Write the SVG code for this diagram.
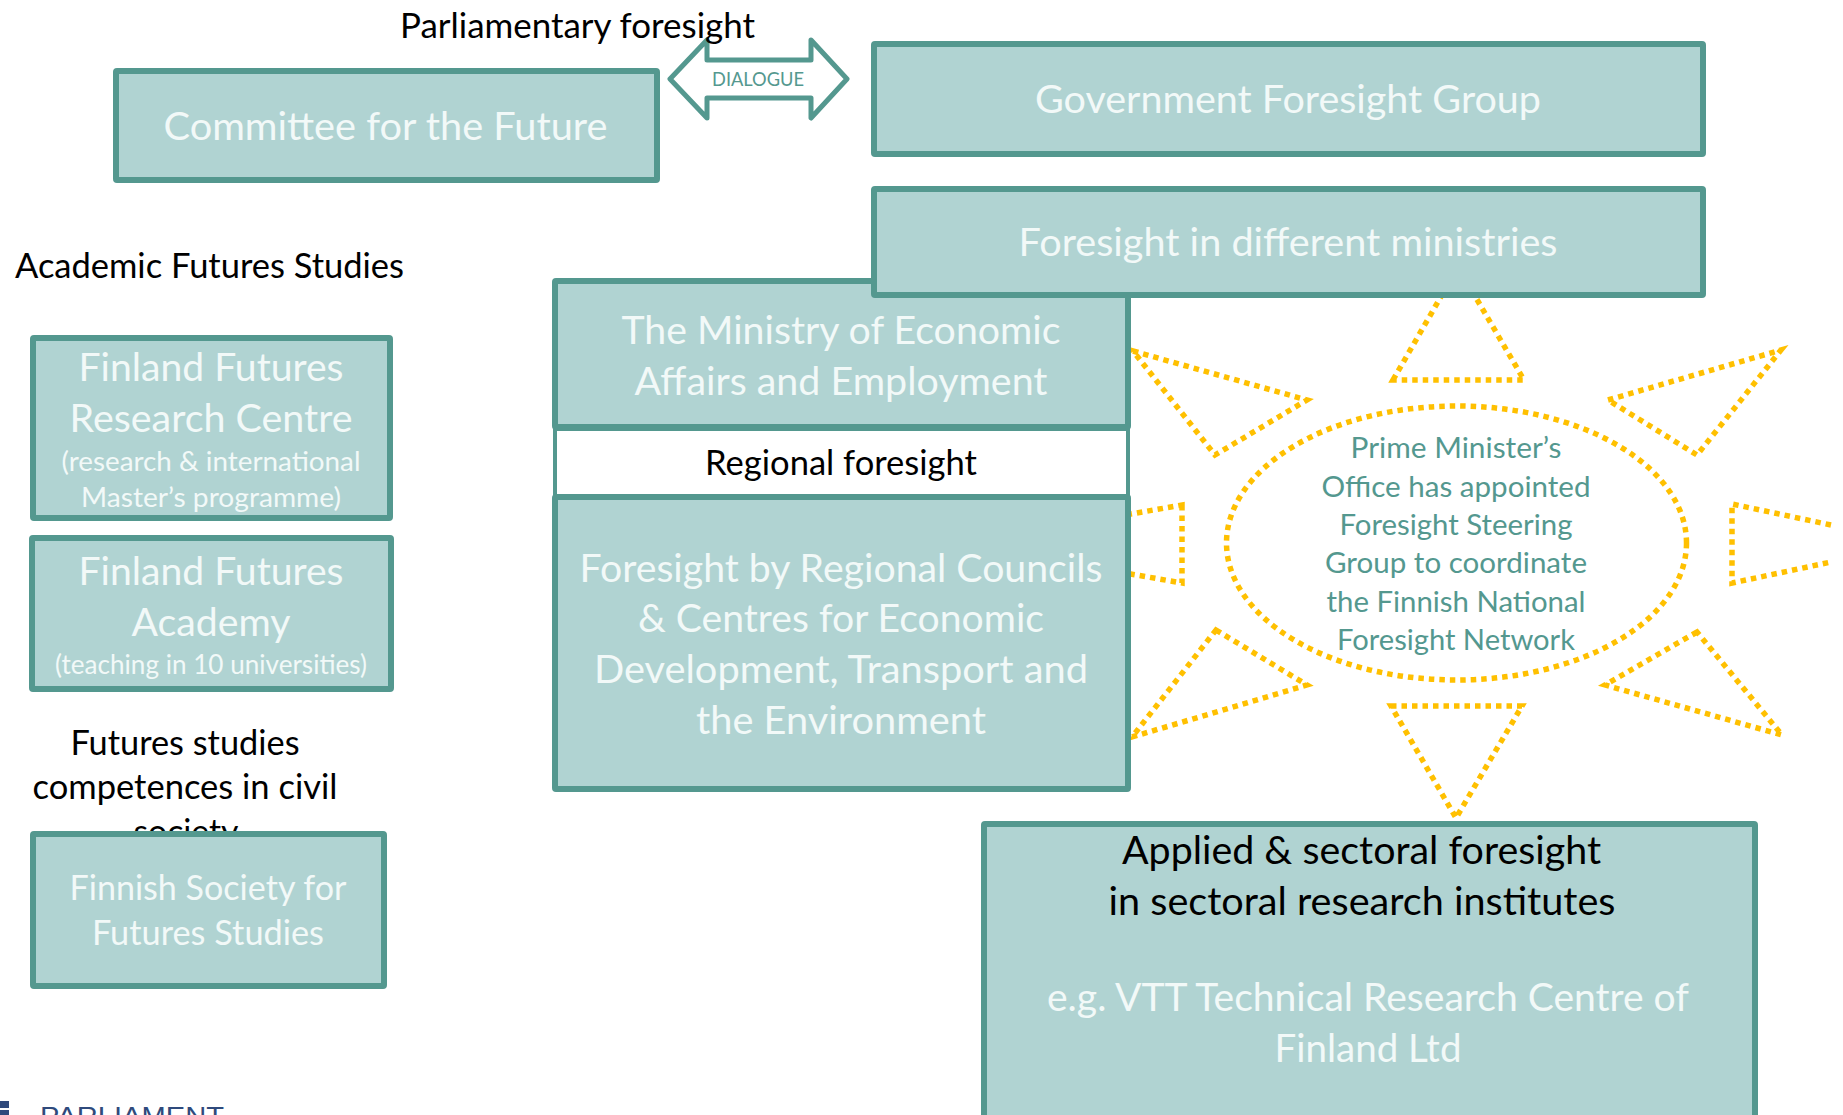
<svg xmlns="http://www.w3.org/2000/svg" width="1843" height="1115" viewBox="0 0 1843 1115">
<style>
text{font-family:Lato,"Noto Sans","Liberation Sans",sans-serif;text-anchor:middle}
.b{fill:#B0D3D2;stroke:#54988F;stroke-width:6;stroke-linejoin:round}
.w{fill:#F2F9F8;font-size:38px}
.m{fill:#F2F9F8;font-size:35px}
.s{fill:#F2F9F8;font-size:27px}
.k{fill:#000;font-size:34px}
.t{fill:#54988F;font-size:29px}
.d{fill:none;stroke:#FFC000;stroke-width:5.500;stroke-dasharray:5.500 5}
</style>
<rect width="1843" height="1115" fill="#fff"/>
<g id="connectors">
<path id="dialogue-arrow" d="M670 79L707 40V60H811V40L847 79L811 118V98H707V118Z" fill="#fff" stroke="#54988F" stroke-width="5" stroke-linejoin="round"/>
</g>
<g id="sun-rays">
<path class="d" d="M1393 380L1458 267L1524 380Z"/>
<path class="d" d="M1608 400L1781 350L1697 455Z"/>
<path class="d" d="M1133 351L1307 400L1215 455Z"/>
<path class="d" d="M1182 505V583L960 544Z"/>
<path class="d" d="M1831 525L1732 504V583L1831 562"/>
<path class="d" d="M1216 630L1307 685L1132 737Z"/>
<path class="d" d="M1697 632L1605 685L1782 735Z"/>
<path class="d" d="M1391 706H1522L1456 818Z"/>
</g>
<g id="steering-group">
<ellipse class="d" cx="1456.500" cy="543" rx="230" ry="137"/>
<text class="t" x="1456" y="458" textLength="211" lengthAdjust="spacingAndGlyphs">Prime Minister’s</text>
<text class="t" x="1456" y="497" textLength="269" lengthAdjust="spacingAndGlyphs">Office has appointed</text>
<text class="t" x="1456" y="535" textLength="233" lengthAdjust="spacingAndGlyphs">Foresight Steering</text>
<text class="t" x="1456" y="573" textLength="262" lengthAdjust="spacingAndGlyphs">Group to coordinate</text>
<text class="t" x="1456" y="612" textLength="259" lengthAdjust="spacingAndGlyphs">the Finnish National</text>
<text class="t" x="1456" y="650" textLength="238" lengthAdjust="spacingAndGlyphs">Foresight Network</text>
</g>
<g id="parliamentary-label"><text class="k" x="577.500" y="38" textLength="355" lengthAdjust="spacingAndGlyphs">Parliamentary foresight</text></g>
<text x="758" y="86" fill="#54988F" font-size="19" textLength="92" lengthAdjust="spacingAndGlyphs">DIALOGUE</text>
<g id="committee"><rect class="b" x="116" y="71" width="541" height="109" rx="1"/>
<text class="w" x="385.500" y="140" textLength="444" lengthAdjust="spacingAndGlyphs">Committee for the Future</text></g>
<g id="government"><rect class="b" x="874" y="44" width="829" height="110" rx="1"/>
<text class="w" x="1288" y="113" textLength="506" lengthAdjust="spacingAndGlyphs">Government Foresight Group</text></g>
<g id="academic-label"><text class="k" x="209.500" y="278" textLength="389" lengthAdjust="spacingAndGlyphs">Academic Futures Studies</text></g>
<g id="ministry"><rect class="b" x="555" y="281" width="573" height="146" rx="1"/>
<text class="w" x="841" y="344" textLength="439" lengthAdjust="spacingAndGlyphs">The Ministry of Economic</text>
<text class="w" x="841" y="395" textLength="413" lengthAdjust="spacingAndGlyphs">Affairs and Employment</text></g>
<g id="ministries"><rect class="b" x="874" y="189" width="829" height="106" rx="1"/>
<text class="w" x="1288" y="256" textLength="539" lengthAdjust="spacingAndGlyphs">Foresight in different ministries</text></g>
<g id="regional"><rect x="555" y="429" width="573" height="67" fill="#fff" stroke="#54988F" stroke-width="4"/>
<text class="k" x="841" y="475" textLength="272" lengthAdjust="spacingAndGlyphs">Regional foresight</text></g>
<g id="councils"><rect class="b" x="555" y="497" width="573" height="292" rx="1"/>
<text class="w" x="841" y="582" textLength="523" lengthAdjust="spacingAndGlyphs">Foresight by Regional Councils</text>
<text class="w" x="841" y="632" textLength="406" lengthAdjust="spacingAndGlyphs">&amp; Centres for Economic</text>
<text class="w" x="841" y="683" textLength="494" lengthAdjust="spacingAndGlyphs">Development, Transport and</text>
<text class="w" x="841" y="734" textLength="290" lengthAdjust="spacingAndGlyphs">the Environment</text></g>
<g id="ffrc"><rect class="b" x="33" y="338" width="357" height="180" rx="1"/>
<text class="w" x="211" y="381" textLength="265" lengthAdjust="spacingAndGlyphs">Finland Futures</text>
<text class="w" x="211" y="432" textLength="283" lengthAdjust="spacingAndGlyphs">Research Centre</text>
<text class="s" x="211" y="471" textLength="299" lengthAdjust="spacingAndGlyphs">(research &amp; international</text>
<text class="s" x="211" y="507" textLength="260" lengthAdjust="spacingAndGlyphs">Master’s programme)</text></g>
<g id="academy"><rect class="b" x="32" y="538" width="359" height="151" rx="1"/>
<text class="w" x="211" y="585" textLength="265" lengthAdjust="spacingAndGlyphs">Finland Futures</text>
<text class="w" x="211" y="636" textLength="159" lengthAdjust="spacingAndGlyphs">Academy</text>
<text class="s" x="211" y="674" textLength="312" lengthAdjust="spacingAndGlyphs">(teaching in 10 universities)</text></g>
<g id="civil-label">
<text class="k" x="185" y="755" textLength="229" lengthAdjust="spacingAndGlyphs">Futures studies</text>
<text class="k" x="185" y="799" textLength="305" lengthAdjust="spacingAndGlyphs">competences in civil</text>
<text class="k" x="186" y="844" textLength="105" lengthAdjust="spacingAndGlyphs">society</text></g>
<g id="society"><rect class="b" x="33" y="834" width="351" height="152" rx="1"/>
<text class="m" x="208" y="900" textLength="277" lengthAdjust="spacingAndGlyphs">Finnish Society for</text>
<text class="m" x="208" y="945" textLength="232" lengthAdjust="spacingAndGlyphs">Futures Studies</text></g>
<g id="applied"><rect class="b" x="984" y="824" width="771" height="300" rx="1"/>
<text class="k" x="1361.500" y="864" style="font-size:38px" textLength="479" lengthAdjust="spacingAndGlyphs">Applied &amp; sectoral foresight</text>
<text class="k" x="1362" y="915" style="font-size:38px" textLength="507" lengthAdjust="spacingAndGlyphs">in sectoral research institutes</text>
<text class="w" x="1368" y="1011" textLength="642" lengthAdjust="spacingAndGlyphs">e.g. VTT Technical Research Centre of</text>
<text class="w" x="1368" y="1062" textLength="187" lengthAdjust="spacingAndGlyphs">Finland Ltd</text></g>
<g id="logo"><rect x="0" y="1101" width="9" height="7" fill="#2F4A7C"/><rect x="0" y="1110" width="9" height="5" fill="#2F4A7C"/>
<text x="132" y="1125" fill="#2F4A7C" font-size="25" textLength="184" lengthAdjust="spacingAndGlyphs" style="font-family:'Liberation Sans',sans-serif">PARLIAMENT</text></g>
</svg>
